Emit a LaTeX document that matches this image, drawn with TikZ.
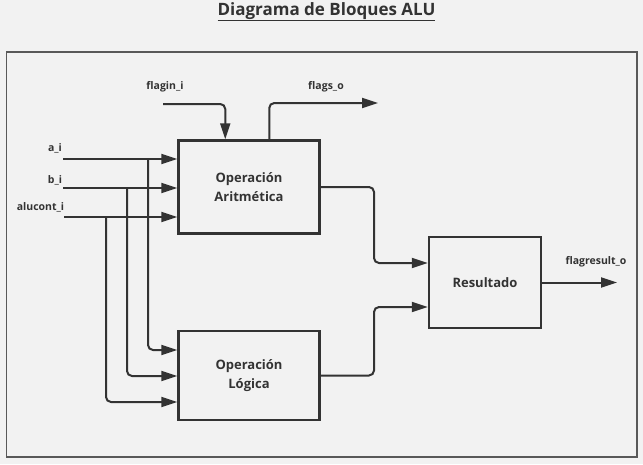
\documentclass[tikz,border=0pt]{standalone}
\usepackage{fontspec}
\setmainfont{Open Sans}
\usetikzlibrary{arrows.meta}
\definecolor{bg}{HTML}{F2F2F2}
\definecolor{ink}{HTML}{333333}
\definecolor{framec}{HTML}{595959}
\begin{document}
\begin{tikzpicture}[x=1pt,y=-1pt,
  blockbox/.style={draw=ink, line width=2.5pt, fill=bg, text=ink,
    font=\bfseries\fontsize{13}{18.5}\selectfont, align=center, inner sep=0pt},
  wire/.style={draw=ink, line width=2pt, rounded corners=5pt,
    -{Triangle[length=16pt,width=10pt]}},
  lbl/.style={text=ink, font=\bfseries\fontsize{10.5}{12}\selectfont, inner sep=0pt},
]
\fill[bg] (0,0) rectangle (643,464);
\useasboundingbox (0,0) rectangle (643,464);
\draw[framec, line width=1.5pt] (6.5,52) rectangle (637,457);

\node[text=ink, font=\bfseries\fontsize{17}{19}\selectfont, anchor=base] (title) at (326.5,15) {\underline{Diagrama de Bloques ALU}};

\node[blockbox, minimum width=141pt, minimum height=93pt] (arit) at (249,187) {Operación\\Aritmética};
\node[blockbox, minimum width=141pt, minimum height=89pt] (logi) at (249,375.5) {Operación\\Lógica};
\node[blockbox, minimum width=112pt, minimum height=91pt] (res) at (485,282.5) {Resultado};

\node[lbl] (lflagin) at (165,87) {flagin\_i};
\node[lbl] (lflags) at (326,87) {flags\_o};
\node[lbl] (la) at (55,148) {a\_i};
\node[lbl] (lb) at (55,180) {b\_i};
\node[lbl] (lalu) at (40.5,207) {alucont\_i};
\node[lbl] (lres) at (596,262) {flagresult\_o};

\coordinate (ain) at (63,159);
\coordinate (bin) at (63,188);
\coordinate (cin) at (64,217);
\coordinate (abr) at (148,159);
\coordinate (bbr) at (127,188);
\coordinate (cbr) at (106,217);
\coordinate (fin) at (163,104);
\coordinate (fout) at (378,103);
\coordinate (rout) at (617,282.5);

\draw[wire] (ain) -- (arit.west |- ain);
\draw[wire] (bin) -- (arit.west |- bin);
\draw[wire] (cin) -- (arit.west |- cin);
\draw[wire] (abr) |- (logi.west |- 0,350);
\draw[wire] (bbr) |- (logi.west |- 0,376);
\draw[wire] (cbr) |- (logi.west |- 0,402);

\draw[wire] (fin) -| ([xshift=48pt]arit.north west);
\draw[wire] ([xshift=92pt]arit.north west) |- (fout);

\draw[wire] (arit.east) -- (374,187) -- (374,263) -- (res.west |- 0,263);
\draw[wire] (logi.east) -- (374,375.5) -- (374,307) -- (res.west |- 0,307);
\draw[wire] (res.east) -- (rout);
\end{tikzpicture}
\end{document}
